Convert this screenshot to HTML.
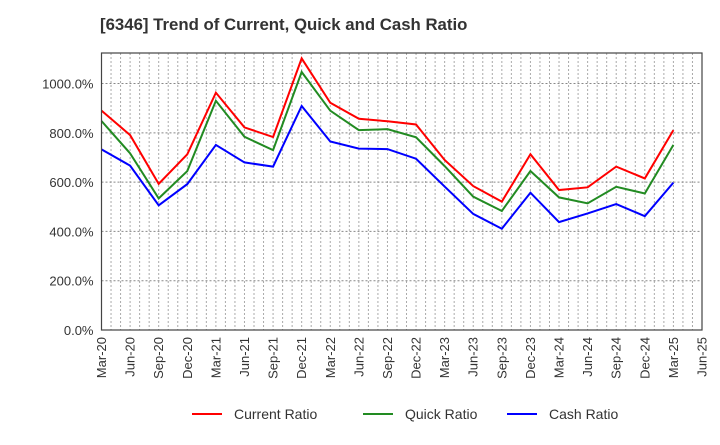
<!DOCTYPE html>
<html><head><meta charset="utf-8"><style>
body{margin:0;background:#fff;font-family:"Liberation Sans",sans-serif;}
svg text{font-family:"Liberation Sans",sans-serif;}
</style></head><body>
<svg id="chart" width="720" height="440">
<text x="100" y="30" font-size="16.8" font-weight="bold" fill="#333">[6346]  Trend of Current, Quick and Cash Ratio</text>
<g id="grid"></g><g id="series"></g><g id="axes"></g>
<g>
<line x1="192" y1="414" x2="222" y2="414" stroke="#f00" stroke-width="2"/><text x="234" y="419" font-size="14" fill="#333">Current Ratio</text>
<line x1="363" y1="414" x2="393" y2="414" stroke="#228b22" stroke-width="2"/><text x="405" y="419" font-size="14" fill="#333">Quick Ratio</text>
<line x1="507" y1="414" x2="537" y2="414" stroke="#00f" stroke-width="2"/><text x="549" y="419" font-size="14" fill="#333">Cash Ratio</text>
</g>
</svg>
<script>
const categories=["Mar-20","Jun-20","Sep-20","Dec-20","Mar-21","Jun-21","Sep-21","Dec-21","Mar-22","Jun-22","Sep-22","Dec-22","Mar-23","Jun-23","Sep-23","Dec-23","Mar-24","Jun-24","Sep-24","Dec-24","Mar-25"];
const xTickLabels=["Mar-20","Jun-20","Sep-20","Dec-20","Mar-21","Jun-21","Sep-21","Dec-21","Mar-22","Jun-22","Sep-22","Dec-22","Mar-23","Jun-23","Sep-23","Dec-23","Mar-24","Jun-24","Sep-24","Dec-24","Mar-25","Jun-25"];
const currentRatio=[890,791,593,713,963,822,783,1102,922,857,847,834,690,584,521,713,568,579,663,615,811];
const quickRatio=[848,717,534,645,930,784,730,1047,890,811,815,782,665,541,483,645,538,514,581,554,751];
const cashRatio=[733,667,506,592,751,680,663,909,765,736,734,695,582,471,411,557,438,473,511,462,598];
const yTicks=[0,200,400,600,800,1000];
const X0=101.5,X1=702,Y0=330,Y1=53,YMAX=1124;
const NS="http://www.w3.org/2000/svg";
function xs(i){return X0+(X1-X0)*i/(xTickLabels.length-1);}
function ys(v){return Y0-(Y0-Y1)*v/YMAX;}
function mk(t,a,p){const e=document.createElementNS(NS,t);for(const k in a)e.setAttribute(k,a[k]);p.appendChild(e);return e;}
const grid=document.getElementById('grid'),axes=document.getElementById('axes'),ser=document.getElementById('series');
const nM=(xTickLabels.length-1)*3;
for(let m=1;m<nM;m++){const x=X0+(X1-X0)*m/nM;
const l=mk('line',{x1:x,x2:x,y1:Y1,y2:Y0,stroke:'#aaa','stroke-dasharray':'2,2','stroke-width':1},grid);

}
yTicks.forEach(v=>{const y=ys(v);
if(v>0){const l=mk('line',{x1:X0,x2:X1,y1:y,y2:y,stroke:'#888','stroke-dasharray':'2,2','stroke-width':1},grid);

}
const t=mk('text',{x:X0-8,y:y+5,'font-size':13,'text-anchor':'end',fill:'#333'},axes);t.textContent=v.toFixed(1)+'%';

});
xTickLabels.forEach((s,i)=>{const x=xs(i);
const t=mk('text',{x:0,y:0,'font-size':13,'text-anchor':'end',fill:'#333',transform:`translate(${x+4.5},${Y0+7}) rotate(-90)`},axes);t.textContent=s;

});
const fr=mk('rect',{x:X0,y:Y1,width:X1-X0,height:Y0-Y1,fill:'none',stroke:'#444','stroke-width':1.2},axes);


[[currentRatio,'#f00','current-ratio-line'],[quickRatio,'#228b22','quick-ratio-line'],[cashRatio,'#00f','cash-ratio-line']].forEach(([d,c,n])=>{
const p=mk('polyline',{points:d.map((v,i)=>xs(i)+','+ys(v)).join(' '),fill:'none',stroke:c,'stroke-width':2},ser);

});
</script>
</body></html>
